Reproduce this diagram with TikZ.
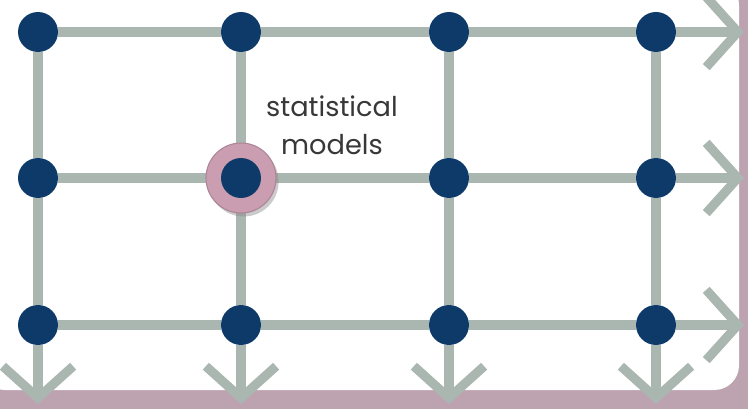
\documentclass[tikz,border=0pt]{standalone}
\usepackage{fontspec}
\setmainfont{Poppins}
\usetikzlibrary{arrows.meta, shadows, backgrounds}

\definecolor{gridgray}{HTML}{AAB6B0}
\definecolor{dotblue}{HTML}{0E3A6A}
\definecolor{mauve}{HTML}{BDA3B0}
\definecolor{ringpink}{HTML}{CA9DB1}

\begin{document}
\begin{tikzpicture}[
  x=0.02cm, y=-0.02cm,
  dot/.style={circle, fill=dotblue, minimum size=0.8cm, inner sep=0pt},
  ring/.style={circle, fill=ringpink, draw=ringpink!85!black, line width=0.6pt, minimum size=1.4cm, inner sep=0pt,
    drop shadow={shadow xshift=1.5pt, shadow yshift=-2pt, fill=black!45, opacity=0.45}},
  link/.style={draw=gridgray, line width=5.2pt},
  outlink/.style={link, -{Straight Barb[length=18pt, width=40pt]}},
  note/.style={align=center, text=black!78, font=\fontsize{15.5}{21.5}\selectfont}
]
\useasboundingbox (0,0) rectangle (748,409);

% Nodes
\node[ring] (focus) at (241,178) {};
\foreach \c/\x in {1/38, 2/241, 3/449, 4/656}
  \foreach \r/\y in {1/32, 2/178, 3/325}
    \node[dot] (d\r\c) at (\x,\y) {};
\node[note] (models) at (332,125) {statistical\\models};

% Free ends of the arrows
\foreach \r/\y in {1/32, 2/178, 3/325}
  \coordinate (e\r) at (744,\y);
\foreach \c/\x in {1/38, 2/241, 3/449, 4/656}
  \coordinate (s\c) at (\x,404);

\begin{pgfonlayer}{background}
% Frame
\fill[mauve] (0,0) rectangle (748,409);
\fill[white, rounded corners=14] (-20,-20) rectangle (739,390);

% Arrows
\foreach \r in {1,2,3} {
  \draw[link] (d\r1) -- (d\r2) -- (d\r3) -- (d\r4);
  \draw[outlink] (d\r4) -- (e\r);
}
\foreach \c in {1,2,3,4} {
  \draw[link] (d1\c) -- (d2\c) -- (d3\c);
  \draw[outlink] (d3\c) -- (s\c);
}
\end{pgfonlayer}
\end{tikzpicture}
\end{document}
